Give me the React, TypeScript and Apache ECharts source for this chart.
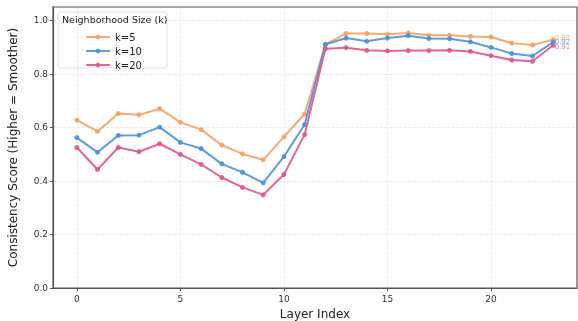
import React, { useEffect, useRef } from "react";
import * as echarts from "echarts";

const layers = [0,1,2,3,4,5,6,7,8,9,10,11,12,13,14,15,16,17,18,19,20,21,22,23];
const k5 = [0.627,0.585,0.652,0.647,0.670,0.619,0.592,0.534,0.501,0.479,0.565,0.650,0.910,0.951,0.951,0.948,0.953,0.944,0.944,0.940,0.938,0.915,0.908,0.928];
const k10 = [0.562,0.507,0.570,0.571,0.601,0.544,0.521,0.464,0.432,0.393,0.491,0.611,0.910,0.934,0.922,0.934,0.943,0.932,0.931,0.920,0.899,0.876,0.867,0.919];
const k20 = [0.525,0.443,0.525,0.509,0.539,0.499,0.462,0.413,0.376,0.348,0.424,0.573,0.894,0.898,0.888,0.886,0.887,0.887,0.888,0.884,0.868,0.852,0.847,0.907];
const seriesNames = ["k=5", "k=10", "k=20"];
const colors = ["#f4a261", "#4a90e2", "#e0578a"];
const xTicks = [0, 5, 10, 15, 20];
const yTicks = [0, 0.2, 0.4, 0.6, 0.8, 1.0];
const FONT = "DejaVu Sans";

export default function App() {
  const ref = useRef<HTMLDivElement>(null);
  useEffect(() => {
    const chart = echarts.init(ref.current!, null, { renderer: "svg" });
    const all = [k5, k10, k20];
    const labelOffsets = [-2, 0, 2];
    const series = all.map((vals, si) => ({
      type: "line",
      name: seriesNames[si],
      data: vals.map((v, i) => {
        const item: any = { value: [layers[i], v] };
        if (i === vals.length - 1) {
          item.label = {
            show: true,
            position: "right",
            distance: 0,
            offset: [-1, labelOffsets[si]],
            formatter: (p: any) => p.value[1].toFixed(2),
            color: colors[si],
            opacity: 0.75,
            fontSize: 7,
            fontFamily: FONT,
          };
        }
        return item;
      }),
      symbol: "circle",
      symbolSize: 5,
      lineStyle: { color: colors[si], width: 2, opacity: 0.9 },
      itemStyle: { color: colors[si], opacity: 0.9 },
      z: 3 + si,
    }));
    chart.setOption({
      animation: false,
      grid: { left: 53, right: 1, top: 7, bottom: 33, containLabel: false, outerBoundsMode: "none" },
      xAxis: {
        type: "value",
        min: -1.15,
        max: 24.15,
        name: "Layer Index",
        nameLocation: "middle",
        nameGap: 20,
        nameTextStyle: { fontSize: 12, color: "#222", fontFamily: FONT },
        axisLine: { show: true, onZero: false, lineStyle: { color: "#555", width: 1.2 } },
        axisTick: { show: true, customValues: xTicks, length: 3, lineStyle: { color: "#555" } },
        axisLabel: { customValues: xTicks, fontSize: 9, color: "#333", fontFamily: FONT, margin: 6 },
        splitLine: { show: true, lineStyle: { color: "#e6e6e6", type: "dashed", width: 0.8 } },
      },
      yAxis: {
        type: "value",
        min: 0,
        max: 1.05,
        name: "Consistency Score (Higher = Smoother)",
        nameLocation: "middle",
        nameGap: 34,
        nameTextStyle: { fontSize: 12, color: "#222", fontFamily: FONT },
        axisLine: { show: true, onZero: false, lineStyle: { color: "#555", width: 1.2 } },
        axisTick: { show: true, customValues: yTicks, length: 3, lineStyle: { color: "#555" } },
        axisLabel: {
          customValues: yTicks,
          fontSize: 9,
          color: "#333",
          fontFamily: FONT,
          margin: 5,
          formatter: (v: number) => v.toFixed(1),
        },
        splitLine: { show: true, lineStyle: { color: "#e6e6e6", type: "dashed", width: 0.8 } },
      },
      legend: {
        orient: "vertical",
        left: 80,
        top: 27,
        itemWidth: 24,
        itemHeight: 6,
        itemGap: 4,
        data: seriesNames,
        textStyle: { fontSize: 10, color: "#222", fontFamily: FONT },
      },
      graphic: [
        {
          type: "rect",
          shape: { x: 53, y: 7, width: 524, height: 281 },
          style: { fill: "none", stroke: "#555", lineWidth: 1.2 },
          silent: true,
          z: 1,
        },
        {
          type: "rect",
          shape: { x: 58, y: 12, width: 109, height: 56, r: 2 },
          style: { fill: "rgba(255,255,255,0.85)", stroke: "#d9d9d9", lineWidth: 0.8 },
          silent: true,
          z: 0,
        },
        {
          type: "text",
          x: 62,
          y: 14,
          style: { text: "Neighborhood Size (k)", fontSize: 9.5, fill: "#222", fontFamily: FONT },
          silent: true,
          z: 10,
        },
      ],
      series,
    });
    return () => chart.dispose();
  }, []);
  return (
    <div
      ref={ref}
      style={{ position: "fixed", left: 0, top: 0, width: 578, height: 321 }}
    />
  );
}
